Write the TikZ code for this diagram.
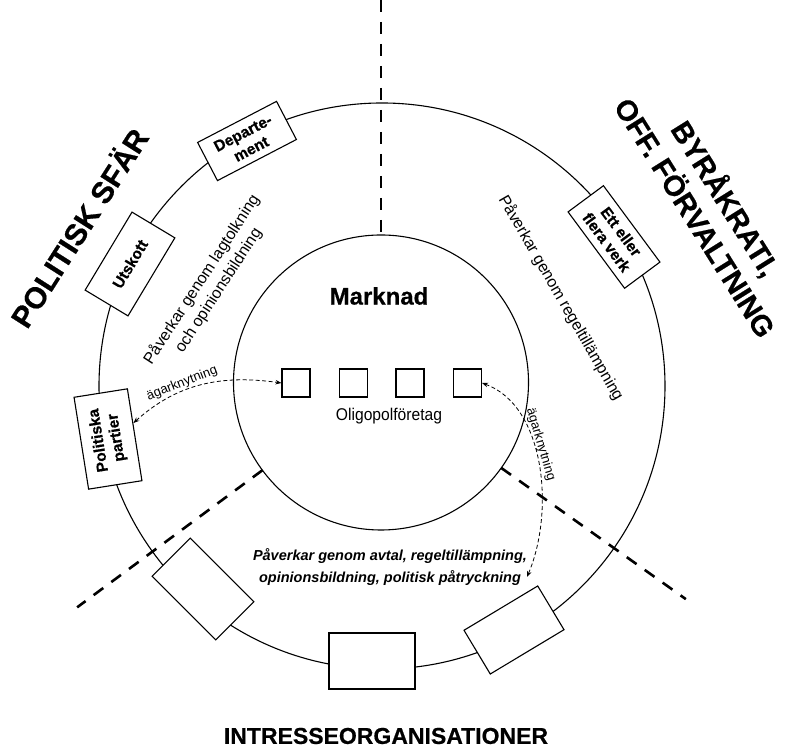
\documentclass[tikz,border=0pt]{standalone}
\usepackage{fontspec}
\setmainfont{Liberation Sans}
\newfontfamily\heavyfont{Liberation Sans Bold}[FakeBold=0.6]
\usetikzlibrary{arrows.meta,calc}
\begin{document}
\begin{tikzpicture}[x=1pt,y=1pt,
  ring/.style={line width=1.1pt},
  sbox/.style={draw, line width=1.1pt, fill=white, inner sep=0pt, align=center,
    font=\heavyfont\fontsize{15.5}{18}\selectfont},
  ebox/.style={draw, line width=1.1pt, fill=white, inner sep=0pt},
  sq/.style={draw, line width=1.1pt, minimum size=28pt, inner sep=0pt},
  divider/.style={line width=2.6pt, dash pattern=on 12pt off 10pt},
  link/.style={line width=0.8pt, dash pattern=on 4pt off 2.5pt,
    {Stealth[length=6pt,width=4.5pt]}-{Stealth[length=6pt,width=4.5pt]}},
  linklabel/.style={font=\fontsize{13}{14}\selectfont, inner sep=1pt},
  title/.style={align=center},
  infl/.style={font=\fontsize{16}{20}\selectfont, align=center}
]
\useasboundingbox (0,0) rectangle (785,751);
\coordinate (C) at (381,368.5);
\coordinate (O) at (382,365);
% circles
\draw[ring] (O) circle[radius=283];
\draw[ring] (C) circle[radius=147.5];
% dividers
\coordinate (vtop) at (381,751);
\coordinate (vbot) at ($(C)+(90:147.5)$);
\coordinate (llA) at ($(C)+(-143.5:147.5)$);
\coordinate (llB) at ($(C)+(-143.5:378)$);
\coordinate (lrA) at ($(C)+(-35.4:147.5)$);
\coordinate (lrB) at ($(C)+(-35.4:374)$);
\draw[divider] (vtop) -- (vbot);
\draw[divider] (llA) -- (llB);
\draw[divider] (lrA) -- (lrB);
% boxes on the ring
\node[sbox, minimum width=89pt, minimum height=43pt, rotate=27.5] (dep) at (247,610) {Departe-\\ment};
\node[sbox, minimum width=91pt, minimum height=50pt, rotate=59] (uts) at (130,487) {Utskott};
\node[sbox, minimum width=93pt, minimum height=54pt, rotate=99] (pp) at (108,312) {Politiska\\partier};
\node[sbox, minimum width=95pt, minimum height=44pt, rotate=-53.5] (verk) at (614,514) {Ett eller\\flera verk};
\node[ebox, minimum width=90pt, minimum height=54pt, rotate=-45] (lb) at (203,162) {};
\node[ebox, minimum width=86pt, minimum height=56pt] (cb) at (372,90) {};
\node[ebox, minimum width=86pt, minimum height=51pt, rotate=31] (rb) at (514,121) {};
% market
\node[font=\heavyfont\fontsize{24}{26}\selectfont] (mk) at (379,455) {Marknad};
\node[sq] (s1) at (296,368) {};
\node[sq] (s2) at (353.5,368) {};
\node[sq] (s3) at (410,368) {};
\node[sq] (s4) at (467.5,368) {};
\node[font=\fontsize{17}{18}\selectfont, xscale=0.92] (olig) at (389,335) {Oligopolföretag};
% influence texts
\node[infl, rotate=57] (t1) at (210,466) {Påverkar genom lagtolkning\\och opinionsbildning};
\node[infl, rotate=-60] (t2) at (561,453) {Påverkar genom regeltillämpning};
\node[font=\bfseries\itshape\fontsize{14.5}{22}\selectfont, align=center] (t3) at (390,184)
  {Påverkar genom avtal, regeltillämpning,\\opinionsbildning, politisk påtryckning};
% titles
\node[title, font=\heavyfont\fontsize{30}{34}\selectfont, rotate=57.5] (pol) at (78,524) {POLITISK SFÄR};
\node[title, font=\heavyfont\fontsize{29}{36}\selectfont, rotate=-58] (byr) at (712,544) {BYRÅKRATI,\\OFF. FÖRVALTNING};
\node[font=\heavyfont\fontsize{23}{25}\selectfont] (intr) at (386,15) {INTRESSEORGANISATIONER};
% ownership links
\coordinate (tip1) at ($(pp.south)!0.25!(pp.south east)$);
\coordinate (tip2) at (527,174);
\draw[link] (tip1) to[out=42,in=172] node[pos=0.38, sloped, above, linklabel] (lab1) {ägarknytning} (s1.west);
\draw[link] (s4.east) .. controls (545,345) and (555,240) .. node[pos=0.42, sloped, above, linklabel, inner sep=0pt] (lab2) {ägarknytning} (tip2);
\end{tikzpicture}
\end{document}
